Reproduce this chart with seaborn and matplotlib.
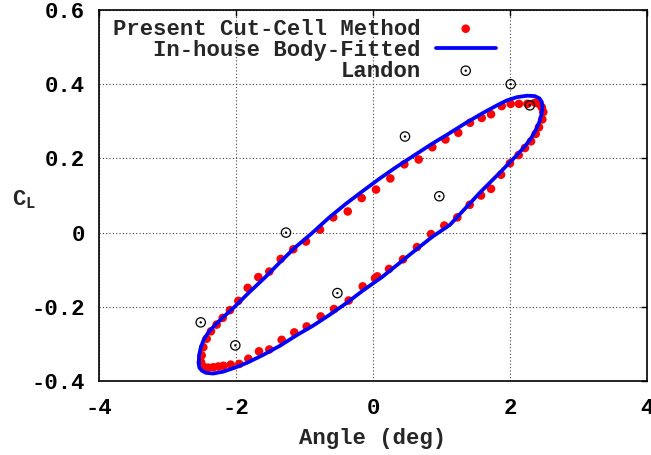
import numpy as np
import pandas as pd
import matplotlib
matplotlib.use("Agg")
import matplotlib.pyplot as plt
import seaborn as sns
from matplotlib.path import Path

# ---------------- data ----------------
cutcell_x = [-2.511, -2.501, -2.477, -2.428, -2.365, -2.282, -2.194, -2.088, -1.966, -1.829,
             -1.674, -1.514, -1.347, -1.164, -0.978, -0.774, -0.580, -0.369, -0.165, 0.044,
             0.253, 0.457, 0.667, 0.866, 1.058, 1.245, 1.416, 1.587, 1.723, 1.879,
             2.010, 2.131, 2.253, 2.365, 2.423, 2.463,
             2.486, 2.472, 2.423, 2.375, 2.307, 2.219, 2.127, 2.000, 1.869, 1.723,
             1.577, 1.412, 1.231, 1.041, 0.847, 0.642, 0.438, 0.234, 0.063, 0.029,
             -0.150, -0.355, -0.569, -0.764, -0.968, -1.149, -1.333, -1.514, -1.664, -1.820,
             -1.952, -2.077, -2.185, -2.258, -2.331, -2.404, -2.477]
cutcell_y = [-0.349, -0.331, -0.309, -0.286, -0.266, -0.248, -0.230, -0.209, -0.184, -0.149,
             -0.120, -0.105, -0.071, -0.045, -0.024, 0.008, 0.041, 0.057, 0.093, 0.116,
             0.146, 0.184, 0.197, 0.230, 0.251, 0.269, 0.296, 0.309, 0.319, 0.341,
             0.347, 0.347, 0.347, 0.350, 0.347, 0.338,
             0.325, 0.305, 0.284, 0.266, 0.246, 0.228, 0.209, 0.187, 0.156, 0.118,
             0.100, 0.075, 0.041, 0.019, -0.004, -0.039, -0.072, -0.098, -0.118, -0.123,
             -0.145, -0.183, -0.206, -0.226, -0.253, -0.269, -0.289, -0.315, -0.320, -0.340,
             -0.354, -0.356, -0.359, -0.361, -0.363, -0.364, -0.361]

bodyfit_x = [-2.545, -2.540, -2.515, -2.470, -2.400, -2.310, -2.204, -2.015, -1.796, -1.577,
             -1.358, -1.150, -0.900, -0.650, -0.400, -0.150, 0.100, 0.350, 0.600, 0.850,
             1.100, 1.350, 1.600, 1.800, 1.950, 2.100, 2.250, 2.360, 2.430, 2.465,
             2.474, 2.462, 2.430, 2.380, 2.310, 2.219, 2.102, 2.000, 1.854, 1.708,
             1.562, 1.416, 1.270, 1.124, 0.861, 0.628, 0.394, 0.131, -0.146, -0.380,
             -0.628, -0.876, -1.109, -1.358, -1.606, -1.839, -2.015, -2.190, -2.336, -2.438,
             -2.500, -2.535, -2.545]
bodyfit_y = [-0.352, -0.333, -0.310, -0.288, -0.268, -0.250, -0.231, -0.199, -0.159, -0.121,
             -0.080, -0.042, -0.003, 0.039, 0.077, 0.112, 0.146, 0.178, 0.208, 0.238,
             0.266, 0.295, 0.322, 0.342, 0.356, 0.365, 0.369, 0.368, 0.362, 0.352,
             0.338, 0.320, 0.299, 0.278, 0.255, 0.233, 0.209, 0.190, 0.162, 0.135,
             0.108, 0.079, 0.050, 0.021, -0.012, -0.046, -0.081, -0.120, -0.156, -0.189,
             -0.221, -0.251, -0.276, -0.305, -0.330, -0.351, -0.364, -0.375, -0.380, -0.378,
             -0.372, -0.364, -0.352]

landon_x = [-2.515, -2.01, -1.27, -0.52, 0.467, 0.968, 2.01, 2.29]
landon_y = [-0.242, -0.304, 0.0, -0.163, 0.259, 0.098, 0.40, 0.343]

xticks = [-4, -2, 0, 2, 4]
xtick_labels = ["-4", "-2", "0", "2", "4"]
yticks = [-0.4, -0.2, 0.0, 0.2, 0.4, 0.6]
ytick_labels = ["-0.4", "-0.2", "0", "0.2", "0.4", "0.6"]

labels = ["Present Cut-Cell Method", "In-house Body-Fitted", "Landon"]

# ---------------- style ----------------
sns.set_style("white")
plt.rcParams["font.family"] = ["Liberation Mono", "DejaVu Sans"]
plt.rcParams["font.weight"] = "bold"
plt.rcParams["mathtext.fontset"] = "custom"
plt.rcParams["mathtext.rm"] = "Liberation Mono:bold"
plt.rcParams["mathtext.it"] = "Liberation Mono:bold"
plt.rcParams["mathtext.bf"] = "Liberation Mono:bold"
FS = 16

fig = plt.figure(figsize=(6.51, 4.55), dpi=100)
ax = fig.add_axes([99 / 651, 74 / 455, 548 / 651, 371 / 455])

df_cc = pd.DataFrame({"angle": cutcell_x, "cl": cutcell_y})
df_bf = pd.DataFrame({"angle": bodyfit_x, "cl": bodyfit_y})
df_ld = pd.DataFrame({"angle": landon_x, "cl": landon_y})

sns.scatterplot(data=df_cc, x="angle", y="cl", ax=ax, color="#ff0000", s=38,
                edgecolor="none", linewidth=0, label=labels[0], zorder=3)
sns.lineplot(data=df_bf, x="angle", y="cl", ax=ax, sort=False, estimator=None,
             color="#0000ff", lw=2.7, label=labels[1], zorder=4)

circ_dot = Path.make_compound_path(Path.circle((0, 0), 1.0), Path.circle((0, 0), 0.12))
sns.scatterplot(data=df_ld, x="angle", y="cl", ax=ax, marker=circ_dot, s=45,
                color="black", linewidth=0.9, label=labels[2], zorder=5)
ld = ax.collections[-1]
ld.set_facecolor("none")
ld.set_edgecolor("black")

ax.set_xlim(-4, 4)
ax.set_ylim(-0.4, 0.6)
ax.set_xticks(xticks)
ax.set_xticklabels(xtick_labels)
ax.set_yticks(yticks)
ax.set_yticklabels(ytick_labels)
ax.tick_params(direction="in", length=4, width=1, top=True, right=True,
               labelsize=FS, pad=10, colors="black")
ax.tick_params(axis="x", pad=12)
for lab in ax.get_xticklabels() + ax.get_yticklabels():
    lab.set_fontweight("bold")
ax.grid(True, linestyle=(0, (1, 2)), color="#444444", lw=0.8)
ax.set_axisbelow(True)
for sp in ax.spines.values():
    sp.set_color("black")
    sp.set_linewidth(1.2)

ax.set_xlabel("Angle (deg)", fontsize=FS, fontweight="bold", labelpad=7)
ax.set_ylabel(r"C$_\mathregular{L}$", fontsize=FS, fontweight="bold", rotation=0,
              ha="center", va="center")
ax.yaxis.set_label_coords(-0.137, 0.49)

leg = ax.legend(loc="upper left", bbox_to_anchor=(0.0255, 0.977), frameon=False,
                markerfirst=False, prop={"family": "Liberation Mono", "weight": "bold", "size": FS},
                handlelength=2.7, handletextpad=0.68, labelspacing=0.0,
                borderpad=0, borderaxespad=0)

fig.savefig("out.png", dpi=100)
